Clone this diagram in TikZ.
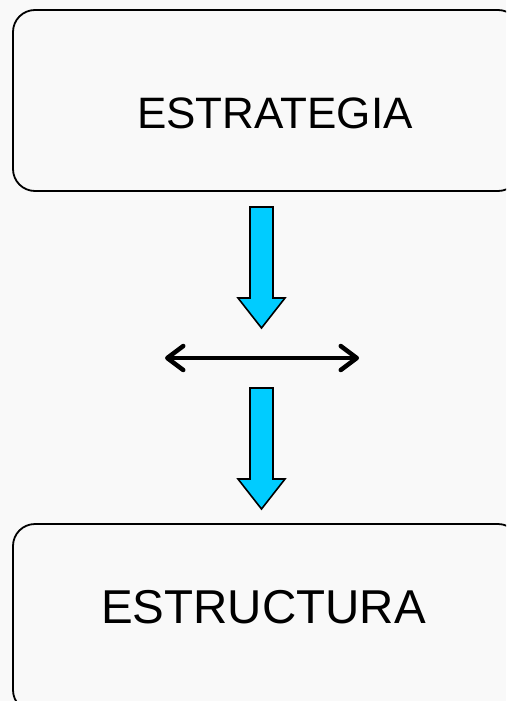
\documentclass[tikz,border=0pt]{standalone}
\usepackage{fontspec}
\setmainfont{Liberation Sans}
\usetikzlibrary{arrows.meta}
\definecolor{flecha}{HTML}{00CCFF}
\definecolor{fondo}{HTML}{F9F9F9}
\tikzset{
  caja/.style={draw=black,line width=1.8pt,rounded corners=22pt,inner sep=0pt},
  rotulo/.style={inner sep=0pt,font=\fontsize{#1}{#1}\selectfont},
  bloque/.style={draw=black,line width=1.6pt,fill=flecha,line join=miter},
  doble/.style={line width=4.5pt,line cap=round,{Straight Barb[length=16pt,width=24pt,round]}-{Straight Barb[length=16pt,width=24pt,round]}}
}
\begin{document}
\begin{tikzpicture}[x=1pt,y=-1pt]
\useasboundingbox (0,0) rectangle (506,701);
\fill[fondo] (0,0) rectangle (506,701);
\clip (0,0) rectangle (506,701);
% cajas
\node[caja,minimum width=507pt,minimum height=181pt] (estrategia) at (266.5,100.5) {};
\node[rotulo=44] at (275,113) {ESTRATEGIA};
\node[caja,minimum width=507pt,minimum height=188pt] (estructura) at (266.5,618) {};
\node[rotulo=47.5] at (263.5,607) {ESTRUCTURA};
% flechas de bloque
\draw[bloque] (250,207) -- (273,207) -- (273,298) -- (285,298) -- (261.5,328)
	-- (238,298) -- (250,298) -- cycle;
\draw[bloque] (250,388) -- (273,388) -- (273,479) -- (285,479) -- (261.5,509)
	-- (238,479) -- (250,479) -- cycle;
% flecha doble
\coordinate (izq) at (165,358);
\coordinate (der) at (359,358);
\draw[doble] (izq) -- (der);
\end{tikzpicture}
\end{document}
